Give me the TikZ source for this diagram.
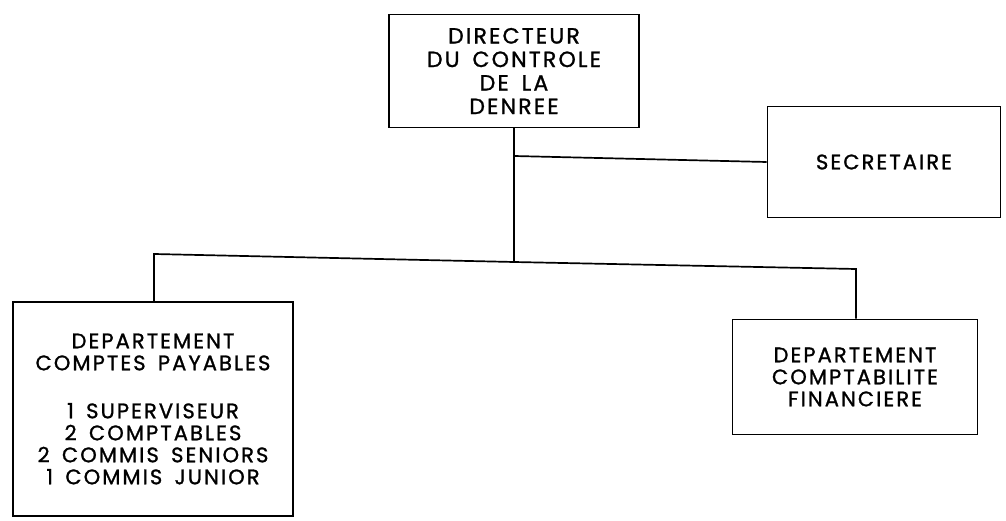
\documentclass[tikz,border=0pt]{standalone}
\usepackage{fontspec}
\setmainfont[LetterSpace=10,WordSpace=1.6,FakeBold=1.2]{Poppins}
\begin{document}
\begin{tikzpicture}[x=1pt,y=-1pt,
  box/.style={draw, line width=1.7pt, align=center, inner sep=0pt},
  conn/.style={line width=1.7pt},
  big/.style={font=\fontsize{22}{23.5}\selectfont},
  mid/.style={font=\fontsize{21}{22}\selectfont}]
\useasboundingbox (0,0) rectangle (1006,521);
\node[box, big, minimum width=250pt, minimum height=113pt] (dir) at (514,71) {DIRECTEUR\\DU CONTROLE\\DE LA\\DENREE};
\node[box, mid, minimum width=233pt, minimum height=111pt] (sec) at (884,162) {SECRETAIRE};
\node[box, mid, minimum width=280pt, minimum height=214pt] (left) at (153,409) {DEPARTEMENT\\COMPTES PAYABLES\\[26pt]1 SUPERVISEUR\\2 COMPTABLES\\2 COMMIS SENIORS\\1 COMMIS JUNIOR};
\node[box, mid, minimum width=245pt, minimum height=115pt] (right) at (855,377) {DEPARTEMENT\\COMPTABILITE\\FINANCIERE};
\coordinate (j1) at (514,156);
\coordinate (bl) at (154,254);
\coordinate (bm) at (514,262);
\coordinate (br) at (856,269);
\draw[conn] (dir.south) -- (bm);
\draw[conn] (j1) -- (sec.west);
\draw[conn] (left.north -| bl) -- (bl) -- (bm) -- (br) -- (right.north -| br);
\end{tikzpicture}
\end{document}
